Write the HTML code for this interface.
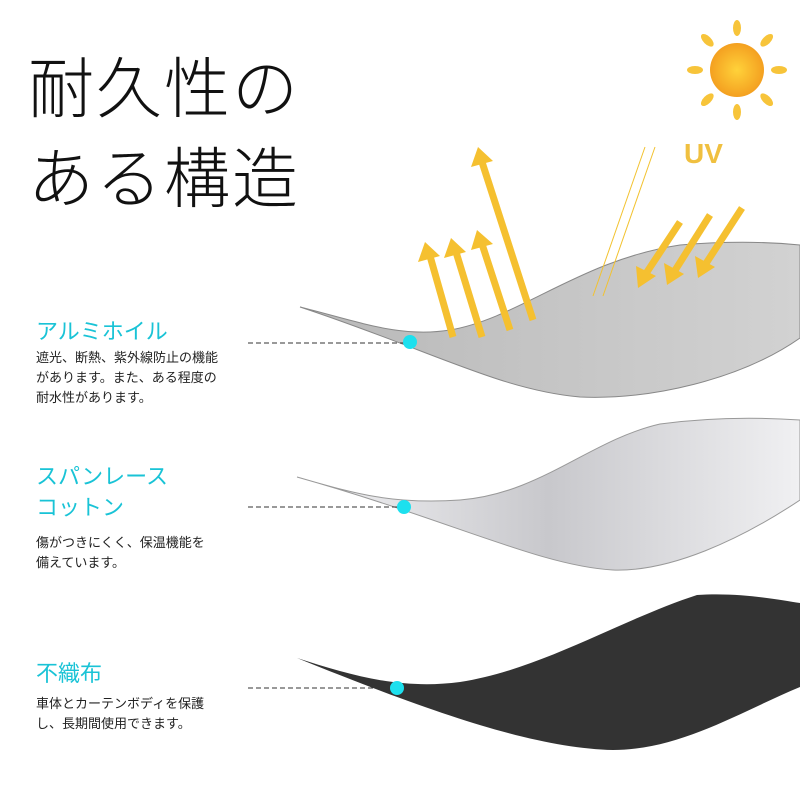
<!DOCTYPE html>
<html><head><meta charset="utf-8"><style>
body{margin:0;width:800px;height:800px;background:#fff;position:relative;overflow:hidden;font-family:"Liberation Sans","Noto Sans CJK JP",sans-serif}
.t{position:absolute;white-space:nowrap}
.h{font-size:66px;color:#111;font-weight:300;left:28px;letter-spacing:2px}
.c{color:#19c3d6;font-size:22px;left:36px}
.d{color:#222;font-size:13px;left:36px;line-height:20px}
</style></head><body>
<svg width="800" height="800" style="position:absolute;left:0;top:0">
<defs>
<linearGradient id="s" x1="0" x2="1"><stop offset="0" stop-color="#b8b8b8"/><stop offset="1" stop-color="#d2d2d2"/></linearGradient>
<linearGradient id="w" x1="0" x2="1"><stop offset="0" stop-color="#f4f4f6"/><stop offset=".5" stop-color="#c8c8cc"/><stop offset="1" stop-color="#f0f0f2"/></linearGradient>
<radialGradient id="sun"><stop offset="0" stop-color="#ffd23a"/><stop offset="1" stop-color="#f4a020"/></radialGradient>
</defs>
<path d="M300,307 C360,322 400,338 450,330 C520,318 580,260 680,245 C740,240 780,243 800,245 L800,338 C740,380 650,400 580,397 C500,390 430,350 300,307Z" fill="url(#s)" stroke="#888" stroke-width="1"/>
<path d="M297,477 C350,492 390,505 460,500 C540,494 590,440 660,424 C720,416 770,418 800,420 L800,500 C740,540 670,572 613,570 C540,566 450,520 297,477Z" fill="url(#w)" stroke="#999" stroke-width="1"/>
<path d="M297,658 C350,675 400,690 460,682 C540,670 620,620 697,595 C740,592 780,600 800,603 L800,687 C740,712 680,750 613,750 C540,748 450,720 297,658Z" fill="#333"/>
<g stroke="#f2c230" fill="none">
<line x1="645" y1="147" x2="593" y2="296"/><line x1="655" y1="147" x2="603" y2="296"/>
</g>
<g stroke="#f5c030" stroke-width="7" fill="#f5c030">
<line x1="453" y1="337" x2="430" y2="256"/><line x1="482" y1="337" x2="456" y2="252"/><line x1="510" y1="330" x2="482" y2="244"/><line x1="533" y1="320" x2="482" y2="162"/>
<line x1="680" y1="222" x2="645" y2="275"/><line x1="710" y1="215" x2="674" y2="272"/><line x1="742" y1="208" x2="705" y2="265"/>
</g>
<g fill="#f5c030">
<polygon points="425,242 418,262 440,256"/><polygon points="451,238 444,258 466,252"/><polygon points="477,230 471,250 493,244"/><polygon points="478,147 471,167 493,161"/>
<polygon points="638,288 636,266 656,276"/><polygon points="667,285 664,263 684,274"/><polygon points="698,278 695,256 715,267"/>
</g>
<g fill="#f7c43a" transform="translate(737,70)">
<ellipse cx="0" cy="-42" rx="4" ry="8"/><ellipse cx="0" cy="42" rx="4" ry="8"/><ellipse cx="-42" cy="0" rx="8" ry="4"/><ellipse cx="42" cy="0" rx="8" ry="4"/>
<ellipse cx="0" cy="-42" rx="4" ry="8" transform="rotate(45)"/><ellipse cx="0" cy="-42" rx="4" ry="8" transform="rotate(-45)"/><ellipse cx="0" cy="-42" rx="4" ry="8" transform="rotate(135)"/><ellipse cx="0" cy="-42" rx="4" ry="8" transform="rotate(-135)"/>
<circle r="27" fill="url(#sun)"/>
</g>
<text x="684" y="163" font-family="Liberation Sans" font-weight="bold" font-size="28" fill="#f0c040">UV</text>
<g stroke="#333" stroke-dasharray="5,3"><line x1="248" y1="343" x2="405" y2="343"/><line x1="248" y1="507" x2="400" y2="507"/><line x1="248" y1="688" x2="393" y2="688"/></g>
<g fill="#1de0ee"><circle cx="410" cy="342" r="7"/><circle cx="404" cy="507" r="7"/><circle cx="397" cy="688" r="7"/></g>
</svg>
<div class="t h" style="top:36px">耐久性の</div>
<div class="t h" style="top:126px">ある構造</div>
<div class="t c" style="top:314px">アルミホイル</div>
<div class="t d" style="top:348px">遮光、断熱、紫外線防止の機能<br>があります。また、ある程度の<br>耐水性があります。</div>
<div class="t c" style="top:461px;line-height:31px">スパンレース<br>コットン</div>
<div class="t d" style="top:533px">傷がつきにくく、保温機能を<br>備えています。</div>
<div class="t c" style="top:656px">不織布</div>
<div class="t d" style="top:694px">車体とカーテンボディを保護<br>し、長期間使用できます。</div>
</body></html>
